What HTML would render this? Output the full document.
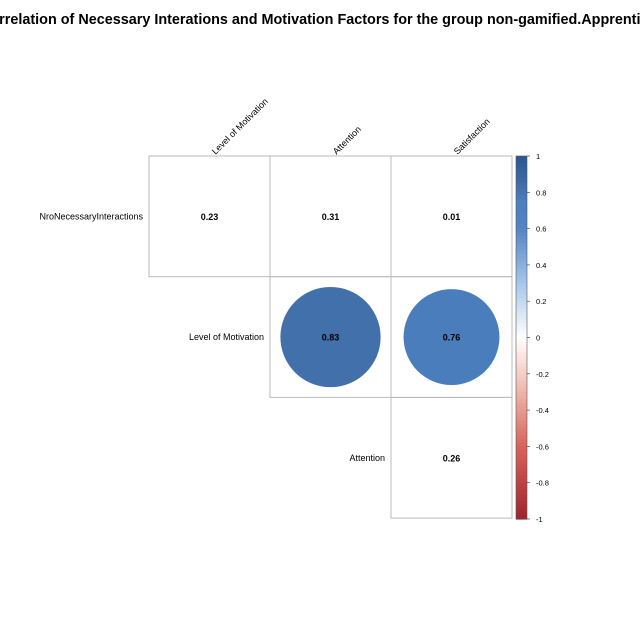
<!DOCTYPE html>
<html><head><meta charset="utf-8"><style>body{margin:0;background:#fff}svg{display:block;font-family:"Liberation Sans",sans-serif}</style></head>
<body>
<svg width="640" height="640" id="c">
<text x="-20" y="24" font-size="14.4" font-weight="bold">Correlation of Necessary Interations and Motivation Factors for the group non-gamified.Apprentice</text>
<g id="g"></g>
</svg>
<script>
const rowLabels=["NroNecessaryInteractions","Level of Motivation","Attention"];
const colLabels=["Level of Motivation","Attention","Satisfaction"];
const values=[[0.23,0.31,0.01],[null,0.83,0.76],[null,null,0.26]];
const significant=[[false,false,false],[null,true,true],[null,null,false]];
const cbTicks=[1,0.8,0.6,0.4,0.2,0,-0.2,-0.4,-0.6,-0.8,-1];
const NS="http://www.w3.org/2000/svg",g=document.getElementById('g');
const x0=149,y0=156,cw=121,ch=120.7;
function mk(t,a){const e=document.createElementNS(NS,t);for(const k in a)e.setAttribute(k,a[k]);g.appendChild(e);return e;}
const stops=[[-1,[160,35,45]],[-0.6,[215,100,90]],[-0.3,[240,180,170]],[0,[255,255,255]],[0.3,[165,198,235]],[0.6,[82,132,196]],[0.75,[75,127,190]],[0.85,[62,108,166]],[1,[44,86,145]]];
function col(v){for(let k=0;k<stops.length-1;k++){const [a,ca]=stops[k],[b,cb]=stops[k+1];if(v>=a&&v<=b){const t=(v-a)/(b-a);return `rgb(${ca.map((c,i)=>Math.round(c+(cb[i]-c)*t)).join(',')})`;}}return 'rgb(255,255,255)';}
function cx(j){return x0+cw*(j+0.5);} function cy(i){return y0+ch*(i+0.5);}
values.forEach((row,i)=>row.forEach((v,j)=>{if(v===null)return;
const r=mk('rect',{x:x0+cw*j,y:y0+ch*i,width:cw,height:ch,fill:'none',stroke:'#bbb','stroke-width':1});


if(significant[i][j]){const c=mk('circle',{cx:cx(j),cy:cy(i),r:Math.sqrt(Math.abs(v))*55,fill:col(v)});

}
const t=mk('text',{x:cx(j),y:cy(i)+3.5,'font-size':9,'font-weight':'bold','text-anchor':'middle'});t.textContent=v.toFixed(2);

}));
rowLabels.forEach((l,i)=>{const t=mk('text',{x:x0+cw*i-6,y:cy(i)+3,'font-size':9,'text-anchor':'end'});t.textContent=l;

});
colLabels.forEach((l,j)=>{const t=mk('text',{x:cx(j)+6,y:y0-1,'font-size':9,transform:`rotate(-45 ${cx(j)+6} ${y0-1})`});t.textContent=l;

});
const bx=516,bw=11,by=156,bh=363;
for(let k=0;k<100;k++){const v=1-2*(k+0.5)/100;const r=mk('rect',{x:bx,y:by+bh*k/100,width:bw,height:bh/100+0.6,fill:col(v)});

}
const o=mk('rect',{x:bx,y:by,width:bw,height:bh,fill:'none',stroke:'#555','stroke-width':0.6});


cbTicks.forEach(v=>{const y=by+bh*(1-v)/2;mk('line',{x1:bx+bw,x2:bx+bw+3,y1:y,y2:y,stroke:'#333','stroke-width':0.6});
const t=mk('text',{x:bx+bw+9,y:y+3,'font-size':7.5});t.textContent=String(v);

});
</script>
</body></html>
